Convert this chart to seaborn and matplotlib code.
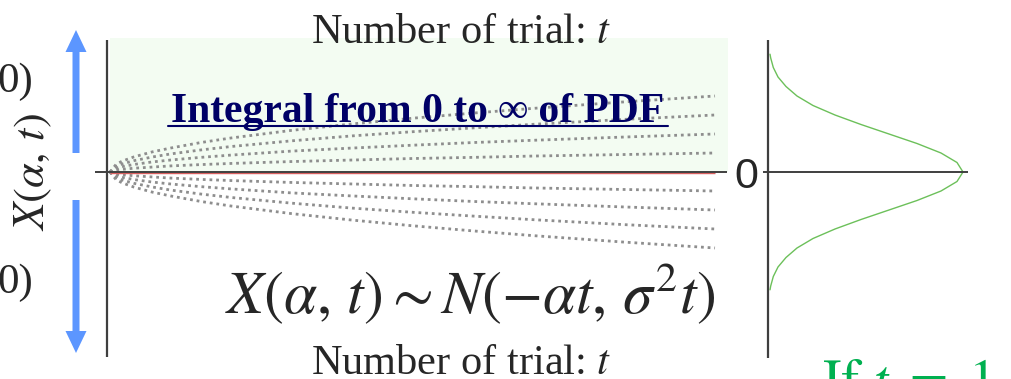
import numpy as np
import pandas as pd
import matplotlib
matplotlib.use("Agg")
import matplotlib.pyplot as plt
import seaborn as sns
from matplotlib.patches import FancyArrow

# ---- data -------------------------------------------------------------
# trial index t and the spread of the random walk X(alpha, t) around zero
trials = [0, 1, 2, 4, 7, 10, 15, 20, 30, 40, 50, 60, 70, 85, 100]
spread_1 = [0, .10, .14, .20, .26, .32, .39, .45, .55, .63, .71, .77, .84, .92, 1.00]
spread_2 = [0, .20, .28, .40, .53, .63, .77, .89, 1.10, 1.26, 1.41, 1.55, 1.67, 1.84, 2.00]
spread_3 = [0, .30, .42, .60, .79, .95, 1.16, 1.34, 1.64, 1.90, 2.12, 2.32, 2.51, 2.77, 3.00]
spread_4 = [0, .40, .57, .80, 1.06, 1.26, 1.55, 1.79, 2.19, 2.53, 2.83, 3.10, 3.35, 3.69, 4.00]
spreads = [spread_1, spread_2, spread_3, spread_4]

# density of X at a single trial
pdf_x = [-6.2, -6.0, -5.5, -5.0, -4.5, -4.0, -3.5, -3.0, -2.5, -2.0, -1.5, -1.0, -0.5,
         0.0, 0.5, 1.0, 1.5, 2.0, 2.5, 3.0, 3.5, 4.0, 4.5, 5.0, 5.5, 6.0, 6.2]
pdf_y = [0.002, 0.0027, 0.0053, 0.010, 0.018, 0.029, 0.045, 0.067, 0.093, 0.121, 0.149,
         0.173, 0.189, 0.195, 0.189, 0.173, 0.149, 0.121, 0.093, 0.067, 0.045, 0.029,
         0.018, 0.010, 0.0053, 0.0027, 0.002]

t_end = 100

# ---- style ------------------------------------------------------------
sns.set_style("white")
plt.rcParams["mathtext.fontset"] = "stix"
plt.rcParams["font.family"] = ["Liberation Serif", "DejaVu Serif"]

W, H = 1011, 379
fig = plt.figure(figsize=(W / 100, H / 100), dpi=100)

def px_axes(x0, x1, y0, y1):
    return fig.add_axes([x0 / W, 1 - y1 / H, (x1 - x0) / W, (y1 - y0) / H])

AXIS = "#3f3f3f"
DOT = "#8e8e8e"

# ---- main random-walk panel --------------------------------------------
ax = px_axes(95, 730, 36, 360)
ax.set_xlim(-15 / 6.05, 620 / 6.05)
ax.set_ylim(-(360 - 172) / 19, (172 - 36) / 19)
ax.axis("off")

ax.fill_between([0, 102.15], 0, (172 - 38) / 19, color="#f3fcf2", lw=0, zorder=0)

rows = []
for k, sp in enumerate(spreads):
    for sign in (1, -1):
        for t, v in zip(trials, sp):
            rows.append({"t": t, "x": sign * v, "curve": f"{sign}{k}"})
walk = pd.DataFrame(rows)
for name, g in walk.groupby("curve"):
    sns.lineplot(data=g, x="t", y="x", ax=ax, color=DOT, lw=2.0,
                 linestyle=(0, (1, 1.4)), sort=False, estimator=None, zorder=2)

ax.hlines(-0.06, 0, t_end, color="#d96060", lw=1.0, zorder=3)
ax.hlines(0, -15 / 6.05, 617 / 6.05, color=AXIS, lw=1.4, zorder=4)
ax.vlines(-0.5, -(357 - 172) / 19, (172 - 40) / 19, color=AXIS, lw=1.6, zorder=4)

# ---- density panel ------------------------------------------------------
ax2 = px_axes(760, 980, 36, 360)
ax2.set_xlim(-0.008, 0.212)
ax2.set_ylim(-(360 - 172) / 19, (172 - 36) / 19)
ax2.axis("off")
sns.lineplot(x=pdf_y, y=pdf_x, ax=ax2, color="#6cc05a", lw=1.0, sort=False,
             estimator=None, orient="y", zorder=3)
ax2.hlines(0, -0.005, 0.2, color=AXIS, lw=1.4, zorder=4)
ax2.vlines(0, -(358 - 172) / 19, (172 - 40) / 19, color=AXIS, lw=1.6, zorder=4)

# ---- annotation layer (pixel coordinates) ------------------------------
ov = fig.add_axes([0, 0, 1, 1])
ov.set_xlim(0, W)
ov.set_ylim(H, 0)
ov.axis("off")
ov.patch.set_alpha(0)

BLUE = "#5c96ff"
ov.add_patch(FancyArrow(76, 153, 0, -123, width=7, head_width=21, head_length=22,
                        length_includes_head=True, color=BLUE, lw=0))
ov.add_patch(FancyArrow(76, 200, 0, 153, width=7, head_width=21, head_length=22,
                        length_includes_head=True, color=BLUE, lw=0))

ov.text(461, 43, "Number of trial: $t$", fontsize=30.5, ha="center", va="baseline")
ov.text(461, 374, "Number of trial: $t$", fontsize=30.5, ha="center", va="baseline")

title = ov.text(418, 122, "Integral from 0 to \u221e of PDF", fontsize=30, weight="bold",
                color="#000066", ha="center", va="baseline")
ov.plot([168, 668], [125.5, 125.5], color="#000066", lw=1.5)

ov.text(470, 313, r"$X(\alpha,\,t){\sim}N(-\alpha t,\,\sigma^{2}t)$", fontsize=43,
        ha="center", va="baseline")
ov.text(33, 172, r"$X(\alpha,\,t)$", fontsize=32, rotation=90, ha="center", va="center")

ov.text(33, 92, "0)", fontsize=31, ha="right", va="baseline")
ov.text(33, 293, "0)", fontsize=31, ha="right", va="baseline")

ov.text(746, 177, "0", fontsize=31, family="Liberation Sans", ha="center", va="center")

ov.text(822, 398, r"$\mathrm{If}\ t\ =\ 1$", fontsize=40, color="#00b050", ha="left",
        va="baseline")

fig.savefig("out.png", dpi=100)
